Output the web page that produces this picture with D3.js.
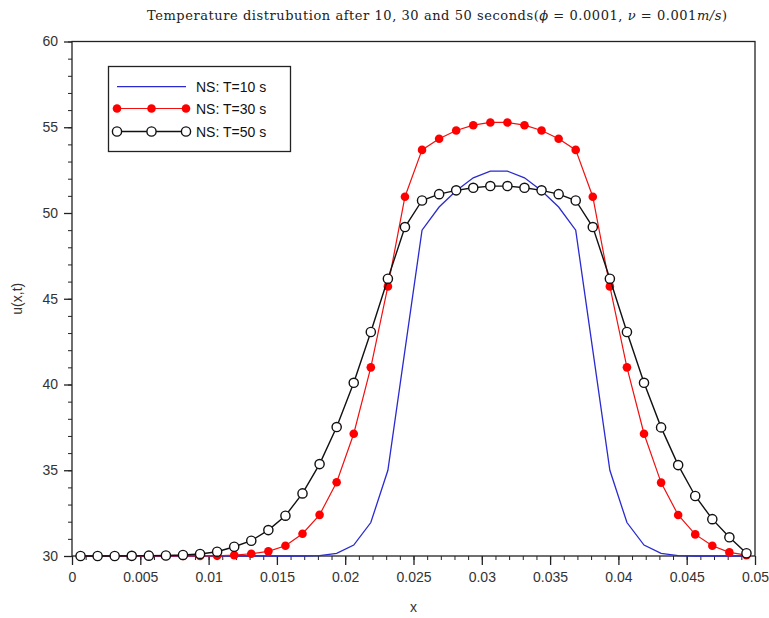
<!DOCTYPE html>
<html>
<head>
<meta charset="utf-8">
<script src="https://cdn.jsdelivr.net/npm/d3@7"></script>
<style>
  body { margin: 0; background: #fff; }
  svg { display: block; }
  .tick text { font-family: "Liberation Sans", Arial, sans-serif; font-size: 14px; fill: #333; }
</style>
</head>
<body>
<svg id="chart" width="769" height="618"></svg>
<script>
//
// Data (cell centres, dx = 0.00125)
//
var xs = d3.range(40).map(function (i) { return (i + 0.5) * 0.00125 })

var u10 = [30, 30, 30, 30, 30, 30, 30, 30, 30, 30,
  30, 30, 30, 30, 30.02, 30.15, 30.64, 31.95, 35.0, 42.0,
  49.0, 50.35, 51.3, 52.05, 52.44, 52.44, 52.05, 51.3, 50.35, 49.0,
  42.0, 35.0, 31.95, 30.64, 30.15, 30.02, 30, 30, 30, 30]

var u30 = [30, 30, 30, 30, 30, 30, 30, 30, 30.01, 30.05,
  30.13, 30.27, 30.6, 31.3, 32.4, 34.3, 37.13, 41.0, 45.72, 50.95,
  53.68, 54.33, 54.81, 55.12, 55.28, 55.28, 55.12, 54.81, 54.33, 53.68,
  50.95, 45.72, 41.0, 37.13, 34.28, 32.39, 31.26, 30.6, 30.21, 30.05]

var u50 = [30, 30, 30, 30.01, 30.02, 30.03, 30.06, 30.12, 30.25, 30.54,
  30.89, 31.51, 32.35, 33.65, 35.36, 37.52, 40.1, 43.06, 46.17, 49.18,
  50.73, 51.1, 51.32, 51.47, 51.57, 51.57, 51.47, 51.32, 51.1, 50.73,
  49.18, 46.17, 43.06, 40.1, 37.5, 35.3, 33.5, 32.15, 31.09, 30.16]

var xTicks = [0, 0.005, 0.01, 0.015, 0.02, 0.025, 0.03, 0.035, 0.04, 0.045, 0.05]
var yTicks = [30, 35, 40, 45, 50, 55, 60]
var seriesNames = ['NS: T=10 s', 'NS: T=30 s', 'NS: T=50 s']

//
// Layout
//
var width = 769, height = 618
var margin = { top: 41.5, right: 14, bottom: 62, left: 72 }
var svg = d3.select('#chart')

var x = d3.scaleLinear().domain([0, 0.05]).range([margin.left, width - margin.right])
var y = d3.scaleLinear().domain([30, 60]).range([height - margin.bottom, margin.top])

// minor ticks
svg.append('g')
  .attr('transform', 'translate(0,' + y(30) + ')')
  .call(d3.axisBottom(x).tickValues(d3.range(0, 51).map(function (d) { return d / 1000 }))
    .tickSize(4).tickFormat(''))
  .call(function (g) { g.select('.domain').remove() })
  .selectAll('line').attr('stroke', '#222')
svg.append('g')
  .attr('transform', 'translate(' + x(0) + ',0)')
  .call(d3.axisLeft(y).tickValues(d3.range(30, 61)).tickSize(4).tickFormat(''))
  .call(function (g) { g.select('.domain').remove() })
  .selectAll('line').attr('stroke', '#222')

// major ticks
var xAxis = svg.append('g')
  .attr('transform', 'translate(0,' + y(30) + ')')
  .call(d3.axisBottom(x).tickValues(xTicks).tickSize(9).tickPadding(7)
    .tickFormat(function (d) { return d3.format('')(+d.toFixed(3)) }))
xAxis.select('.domain').remove()
xAxis.selectAll('line').attr('stroke', '#222').attr('stroke-width', 1.3)

var yAxis = svg.append('g')
  .attr('transform', 'translate(' + x(0) + ',0)')
  .call(d3.axisLeft(y).tickValues(yTicks).tickSize(8).tickPadding(6))
yAxis.select('.domain').remove()
yAxis.selectAll('line').attr('stroke', '#222').attr('stroke-width', 1.3)

// frame
svg.append('rect')
  .attr('x', x(0)).attr('y', y(60))
  .attr('width', x(0.05) - x(0)).attr('height', y(30) - y(60))
  .attr('fill', 'none').attr('stroke', '#222').attr('stroke-width', 1.3)

// series
var line = d3.line().x(function (d) { return x(d[0]) }).y(function (d) { return y(d[1]) })
function pairs(vals) { return xs.map(function (v, i) { return [v, vals[i]] }) }

svg.append('path').datum(pairs(u10))
  .attr('fill', 'none').attr('stroke', '#2a2ad0').attr('stroke-width', 1.3).attr('d', line)

svg.append('path').datum(pairs(u30))
  .attr('fill', 'none').attr('stroke', '#f01010').attr('stroke-width', 1.2).attr('d', line)
svg.append('g').selectAll('circle').data(pairs(u30)).join('circle')
  .attr('cx', function (d) { return x(d[0]) }).attr('cy', function (d) { return y(d[1]) })
  .attr('r', 4.3).attr('fill', '#ff0000')

svg.append('path').datum(pairs(u50))
  .attr('fill', 'none').attr('stroke', '#111').attr('stroke-width', 1.4).attr('d', line)
svg.append('g').selectAll('circle').data(pairs(u50)).join('circle')
  .attr('cx', function (d) { return x(d[0]) }).attr('cy', function (d) { return y(d[1]) })
  .attr('r', 4.6).attr('fill', '#fff').attr('stroke', '#111').attr('stroke-width', 1.4)

// labels
svg.append('text')
  .attr('x', (x(0) + x(0.05)) / 2).attr('y', 612)
  .attr('text-anchor', 'middle')
  .style('font-family', '"Liberation Sans", Arial, sans-serif').style('font-size', '14px').attr('fill', '#333')
  .text('x')
svg.append('text')
  .attr('transform', 'translate(22,' + ((y(30) + y(60)) / 2) + ') rotate(-90)')
  .attr('text-anchor', 'middle')
  .style('font-family', '"Liberation Sans", Arial, sans-serif').style('font-size', '14px').attr('fill', '#333')
  .text('u(x,t)')

// title
var title = svg.append('text')
  .attr('x', 437).attr('y', 20)
  .attr('text-anchor', 'middle')
  .attr('textLength', 580).attr('lengthAdjust', 'spacing')
  .style('font-family', '"DejaVu Serif", serif').style('font-size', '13px').attr('fill', '#222')
title.append('tspan').text('Temperature distrubution after 10,  30 and 50 seconds(')
title.append('tspan').attr('font-style', 'italic').text('ϕ')
title.append('tspan').text(' = 0.0001,  ')
title.append('tspan').attr('font-style', 'italic').text('ν')
title.append('tspan').text(' = 0.001')
title.append('tspan').attr('font-style', 'italic').text('m/s')
title.append('tspan').text(')')

// legend
var lg = svg.append('g')
lg.append('rect').attr('x', 108.5).attr('y', 66.5).attr('width', 182).attr('height', 85)
  .attr('fill', '#fff').attr('stroke', '#222').attr('stroke-width', 1.3)
var rows = [86.7, 108.5, 131.5]
var lx0 = 117, lx1 = 186
lg.append('line').attr('x1', lx0).attr('x2', lx1).attr('y1', rows[0]).attr('y2', rows[0])
  .attr('stroke', '#2a2ad0').attr('stroke-width', 1.3)
lg.append('line').attr('x1', lx0).attr('x2', lx1).attr('y1', rows[1]).attr('y2', rows[1])
  .attr('stroke', '#f01010').attr('stroke-width', 1.2)
lg.append('line').attr('x1', lx0).attr('x2', lx1).attr('y1', rows[2]).attr('y2', rows[2])
  .attr('stroke', '#111').attr('stroke-width', 1.4)
;[lx0, (lx0 + lx1) / 2, lx1].forEach(function (cx) {
  lg.append('circle').attr('cx', cx).attr('cy', rows[1]).attr('r', 4.3).attr('fill', '#ff0000')
  lg.append('circle').attr('cx', cx).attr('cy', rows[2]).attr('r', 4.6)
    .attr('fill', '#fff').attr('stroke', '#111').attr('stroke-width', 1.4)
})
lg.selectAll('text.lab').data(seriesNames).join('text')
  .attr('class', 'lab')
  .attr('x', 196).attr('y', function (d, i) { return rows[i] + 5 })
  .style('font-family', '"Liberation Sans", Arial, sans-serif').style('font-size', '14px').attr('fill', '#111')
  .text(function (d) { return d })
</script>
</body>
</html>
